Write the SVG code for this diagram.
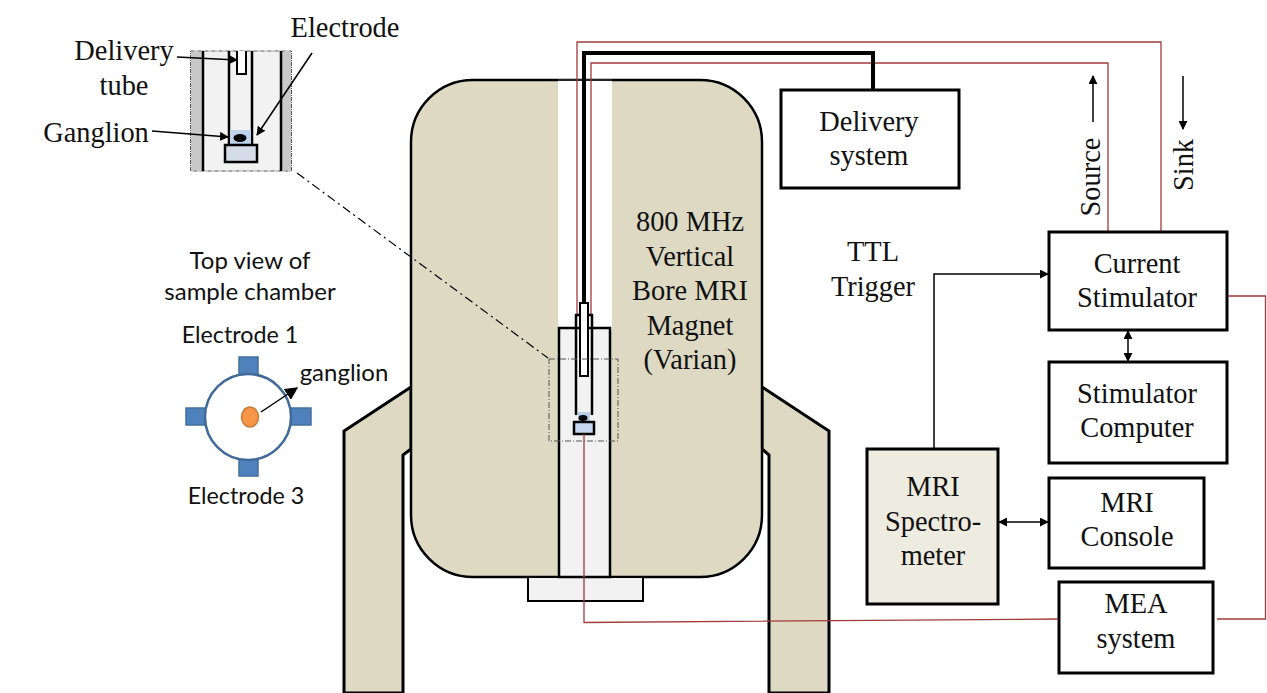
<svg xmlns="http://www.w3.org/2000/svg" width="1267" height="693" viewBox="0 0 1267 693">
<style>
.s{font-family:"Liberation Serif","Times New Roman",serif;font-size:28.4px;fill:#111;text-anchor:middle}
.c{font-family:Lato,"Open Sans",sans-serif;font-size:24px;fill:#111;text-anchor:middle}
.e{font-size:23.3px}
.box{fill:#fff;stroke:#000;stroke-width:3}
.red{fill:none;stroke:#a33a3a;stroke-width:1.3}
.ln{fill:none;stroke:#000;stroke-width:1.5}
.bk{fill:none;stroke:#000;stroke-width:2.5}
</style>
<defs>
<marker id="a" viewBox="0 0 10 10" refX="9" refY="5" markerWidth="9" markerHeight="9" markerUnits="userSpaceOnUse" orient="auto-start-reverse"><path d="M0 0L10 5L0 10z" fill="#000"/></marker>
<marker id="b" viewBox="0 0 10 10" refX="9" refY="5" markerWidth="13" markerHeight="13" markerUnits="userSpaceOnUse" orient="auto"><path d="M0 0L10 5L0 10z" fill="#000"/></marker>
</defs>
<g id="magnet">
<path d="M411 387L344 431V693H403V455L411 449z" fill="#ddd9c3" stroke="#000" stroke-width="3"/>
<path d="M762 387L829 431V693H769V455L762 449z" fill="#ddd9c3" stroke="#000" stroke-width="3"/>
<rect x="411" y="80" width="351" height="497" rx="62" fill="#ddd9c3" stroke="#000" stroke-width="2.5"/>
<rect x="558" y="81" width="54" height="250" fill="#fff"/>
<path d="M558 80H612" stroke="#444" stroke-width="1"/>
<rect x="528" y="577" width="115" height="24" fill="#f2f2f2" stroke="#000" stroke-width="2"/>
<path d="M559 577V328H610V577z" fill="#f2f2f2" stroke="#000" stroke-width="2.5"/>
<text class="s"><tspan x="690" y="231">800 MHz</tspan><tspan x="690" y="266">Vertical</tspan><tspan x="690" y="300">Bore MRI</tspan><tspan x="690" y="335">Magnet</tspan><tspan x="690" y="369">(Varian)</tspan></text>
</g>
<g id="probe">
<path class="red" d="M577 316V42H1161V232"/>
<path class="red" d="M591 316V63H1108V232"/>
<rect x="578" y="412" width="12" height="11" fill="#b9cfe8"/>
<path d="M576 415V315H592V415" class="bk"/>
<path d="M584 303V53H873V90" fill="none" stroke="#000" stroke-width="4"/>
<rect x="580" y="303" width="8" height="73" fill="#fff" stroke="#000" stroke-width="2"/>
<ellipse cx="583" cy="418" rx="4.5" ry="3" fill="#000"/>
<rect x="574" y="422" width="20" height="12" fill="#c5d8f0" stroke="#000" stroke-width="2.5"/>
<rect x="549" y="359" width="69" height="82" fill="none" stroke="#555" stroke-width="1" stroke-dasharray="6 2 1 2"/>
</g>
<g id="inset">
<rect x="190.500" y="51" width="101" height="120" fill="#f2f2f2" stroke="#555" stroke-width="1" stroke-dasharray="4 1 1 1"/>
<rect x="191" y="52" width="12" height="118" fill="#c8c8c8"/>
<rect x="281" y="52" width="10" height="118" fill="#c8c8c8"/>
<path class="bk" d="M203 51V171M281 51V171M229 51V145M252 51V145"/>
<path d="M237 51V74H246V51" fill="#fff" stroke="#000" stroke-width="2"/>
<rect x="230" y="130" width="21" height="14" fill="#bdd3ec"/>
<ellipse cx="240" cy="138" rx="6.500" ry="4" fill="#000"/>
<rect x="225" y="145" width="32" height="17" fill="#d5dce8" stroke="#000" stroke-width="2.5"/>
<text class="s" x="124" y="60">Delivery</text>
<text class="s" x="124" y="95">tube</text>
<text class="s" x="345" y="37">Electrode</text>
<text class="s" x="96" y="142">Ganglion</text>
</g>
<g id="chamber">
<g fill="#4f81bd" stroke="#41719c" stroke-width="1.5">
<rect x="239" y="357" width="19" height="18"/>
<rect x="239" y="459" width="19" height="17"/>
<rect x="186" y="408" width="20" height="17"/>
<rect x="291" y="408" width="20" height="17"/>
</g>
<circle cx="248" cy="417" r="43" fill="#fff" stroke="#3f6a99" stroke-width="2.500"/>
<ellipse cx="250" cy="417" rx="8.500" ry="10" fill="#f79646" stroke="#c77c3a" stroke-width="1.500"/>
<text class="c" x="250" y="269">Top view of</text>
<text class="c" x="250" y="300">sample chamber</text>
<text class="c e" x="240" y="343">Electrode 1</text>
<text class="c" x="344" y="381">ganglion</text>
<text class="c e" x="246" y="504">Electrode 3</text>
</g>
<g id="delivery"><rect class="box" x="781" y="90" width="178" height="98"/><text class="s"><tspan x="869" y="131">Delivery</tspan><tspan x="869" y="165">system</tspan></text></g>
<g id="stimulator"><rect class="box" x="1049" y="232" width="178" height="98"/><text class="s"><tspan x="1137" y="273">Current</tspan><tspan x="1137" y="307">Stimulator</tspan></text></g>
<g id="computer"><rect class="box" x="1049" y="362" width="178" height="101"/><text class="s"><tspan x="1137" y="403">Stimulator</tspan><tspan x="1137" y="437">Computer</tspan></text></g>
<g id="console"><rect class="box" x="1049" y="478" width="155" height="90"/><text class="s"><tspan x="1127" y="512">MRI</tspan><tspan x="1127" y="546">Console</tspan></text></g>
<g id="spectrometer"><rect class="box" style="fill:#eeebe0" x="867" y="449" width="131" height="155"/><text class="s"><tspan x="933" y="496">MRI</tspan><tspan x="933" y="531">Spectro-</tspan><tspan x="933" y="565">meter</tspan></text></g>
<g id="mea"><rect class="box" x="1059" y="582" width="154" height="91"/><text class="s"><tspan x="1136" y="613">MEA</tspan><tspan x="1136" y="648">system</tspan></text></g>
<g id="connectors">
<path class="red" d="M584 434V622.5L1058 619"/>
<path class="red" d="M1217 619H1265.5V296H1228"/>
<path class="ln" d="M934 449V274H1048" marker-end="url(#a)"/>
<path class="ln" d="M1128 331V361" marker-start="url(#a)" marker-end="url(#a)"/>
<path class="ln" d="M999 522H1048" marker-start="url(#a)" marker-end="url(#a)"/>
<path class="ln" d="M1093 122V76" marker-end="url(#a)"/>
<path class="ln" d="M1183 76V129" marker-end="url(#a)"/>
<path d="M297 173L548 358" fill="none" stroke="#000" stroke-width="1.200" stroke-dasharray="9 4 2 4"/>
<path class="ln" d="M177 57L237 60" marker-end="url(#a)"/>
<path class="ln" d="M312 53L257 135" marker-end="url(#a)"/>
<path class="ln" d="M152 131L228 137" marker-end="url(#a)"/>
<path class="ln" d="M261 412L297 388" marker-end="url(#b)"/>
</g>
<g id="labels">
<text class="s"><tspan x="873" y="261">TTL</tspan><tspan x="873" y="296">Trigger</tspan></text>
<text class="s" transform="translate(1100 177) rotate(-90)">Source</text>
<text class="s" transform="translate(1193 165) rotate(-90)">Sink</text>
</g>
</svg>
